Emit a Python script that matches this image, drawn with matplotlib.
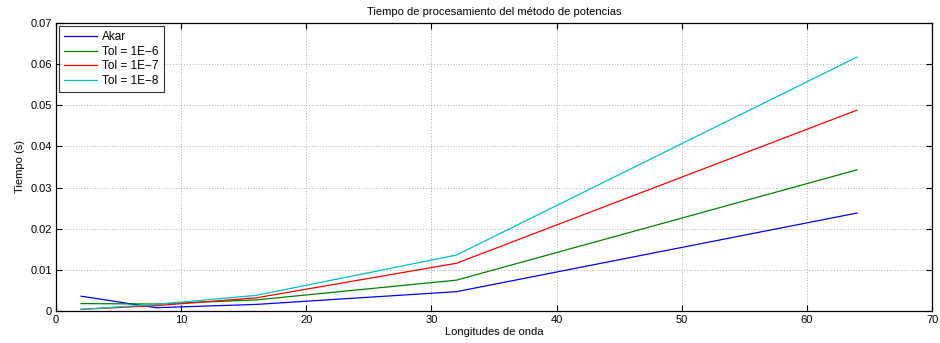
import matplotlib
matplotlib.use("Agg")
import matplotlib.pyplot as plt

longitudes = [2, 8, 16, 32, 64]
akar = [0.0036, 0.0008, 0.0016, 0.0047, 0.0238]
tol_1e6 = [0.0018, 0.0017, 0.0027, 0.0075, 0.0343]
tol_1e7 = [0.0004, 0.0013, 0.0032, 0.0116, 0.0488]
tol_1e8 = [0.0004, 0.0016, 0.0038, 0.0136, 0.0617]

series = [
    ("Akar", akar, "#0000ff"),
    ("Tol = 1E\u22126", tol_1e6, "#008000"),
    ("Tol = 1E\u22127", tol_1e7, "#ff0000"),
    ("Tol = 1E\u22128", tol_1e8, "#00bfbf"),
]

plt.rcParams["font.family"] = ["Liberation Sans Narrow", "Liberation Sans", "DejaVu Sans"]
plt.rcParams["font.size"] = 8

fig = plt.figure(figsize=(9.4, 3.43), dpi=100)
ax = fig.add_axes([0.0596, 0.0933, 0.932, 0.840])

for label, values, color in series:
    ax.plot(longitudes, values, color=color, linewidth=0.9, label=label)

ax.set_xlim(0, 70)
ax.set_ylim(0, 0.07)
ax.set_xticks(range(0, 71, 10))
ax.set_yticks([i / 100 for i in range(0, 8)])
ax.set_yticklabels(["0"] + [f"{i / 100:.2f}" for i in range(1, 8)])
ax.tick_params(direction="in", top=True, right=True, length=4, width=0.8, pad=3)
ax.grid(True, linestyle=(0, (1, 3)), color="#666666", linewidth=0.5)
for spine in ax.spines.values():
    spine.set_linewidth(0.9)

ax.set_title("Tiempo de procesamiento del método de potencias", fontsize=8, pad=6)
ax.set_xlabel("Longitudes de onda", labelpad=1)
ax.set_ylabel("Tiempo (s)", labelpad=4)

leg = ax.legend(loc="upper left", fontsize=8.5, frameon=True, fancybox=False,
                handlelength=2.8, borderaxespad=0.25, labelspacing=0.22,
                borderpad=0.45, handletextpad=0.4)
leg.get_frame().set_edgecolor("black")
leg.get_frame().set_linewidth(0.8)

fig.savefig("out.png", dpi=100, facecolor="white")
